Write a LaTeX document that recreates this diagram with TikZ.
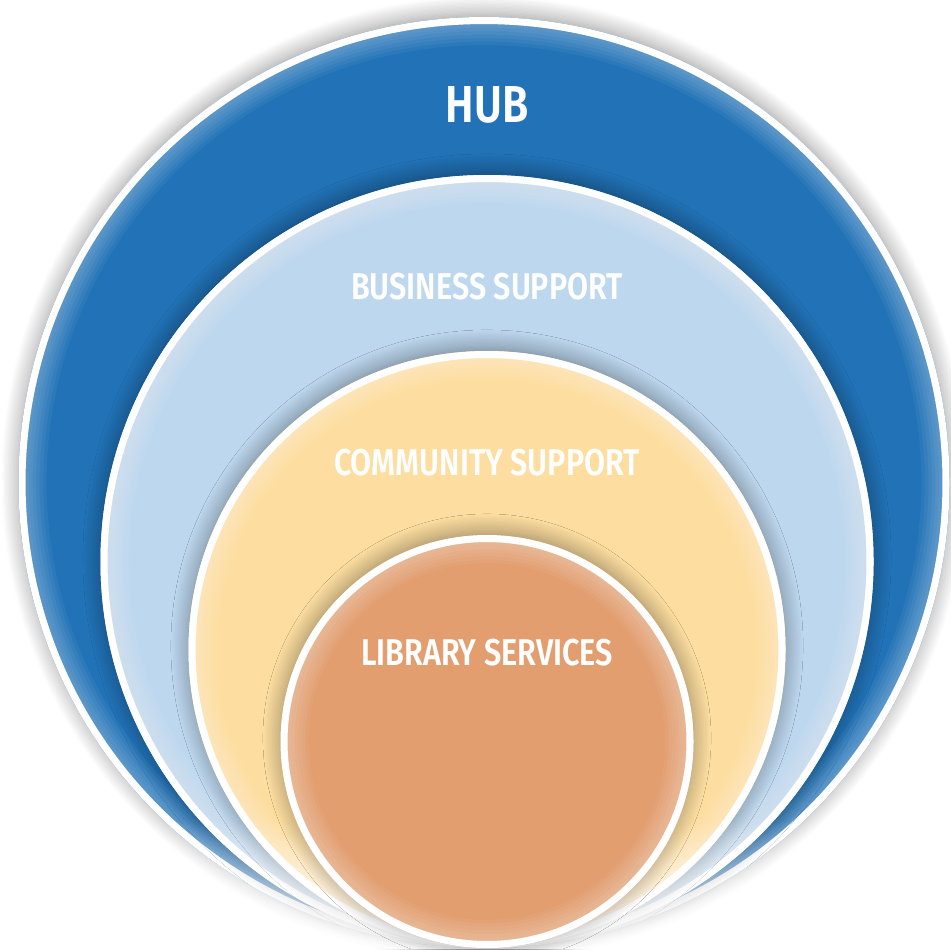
\documentclass[tikz,border=0pt]{standalone}
\usepackage{fontspec}
\setsansfont{Fira Sans}[FakeStretch=0.82, BoldFont={Fira Sans SemiBold}]
\usetikzlibrary{shadows.blur, fadings}
\definecolor{hubblue}{RGB}{33,114,183}
\definecolor{bizblue}{RGB}{189,215,238}
\definecolor{commyellow}{RGB}{253,222,160}
\definecolor{liborange}{RGB}{226,158,111}
\tikzfading[name=bottomfade, top color=transparent!100, bottom color=transparent!15]
\tikzset{
  ring/.style={fill=#1, blur shadow={shadow xshift=0pt, shadow yshift=1pt,
      shadow blur radius=5pt, shadow blur steps=14, shadow opacity=40}},
  rim/.style={draw=white, line width=2pt},
  ringlabel/.style={text=white, inner sep=0pt,
      font=\sffamily\bfseries\fontsize{10.6}{12}\selectfont}
}
% one coloured disc: centre, radius, colour
\newcommand{\ringlayer}[3]{%
  \fill[ring=#3] (#1) circle (#2);
  \begin{scope}
    \clip (#1) circle (#2);
    \foreach \w in {2,4,...,16}
      \draw[white, opacity=0.05, line width=\w pt] (#1) circle (#2);
  \end{scope}
  \draw[rim] (#1) circle (#2-1pt);
}

\begin{document}
\begin{tikzpicture}
  \useasboundingbox (0,0) rectangle (9.51,-9.49);
  \coordinate (hubc)  at (4.84,-4.825);
  \coordinate (bizc)  at (4.87,-5.615);
  \coordinate (commc) at (4.87,-6.495);
  \coordinate (libc)  at (4.87,-7.415);

  \ringlayer{hubc}{4.655cm}{hubblue}
  \ringlayer{bizc}{3.865cm}{bizblue}
  \ringlayer{commc}{2.985cm}{commyellow}

  % bottom fade of the outer rings
  \fill[white, path fading=bottomfade] (0,-8.2) rectangle (9.51,-9.49);

  \ringlayer{libc}{2.065cm}{liborange}

  % labels
  \node [ringlabel, font=\sffamily\bfseries\fontsize{14.8}{16}\selectfont] (hub) at (4.87,-1.05) {HUB};
  \node [ringlabel] (business) at (4.87,-2.87) {BUSINESS SUPPORT};
  \node [ringlabel] (community) at (4.87,-4.63) {COMMUNITY SUPPORT};
  \node [ringlabel] (library) at (4.87,-6.53) {LIBRARY SERVICES};
\end{tikzpicture}
\end{document}
